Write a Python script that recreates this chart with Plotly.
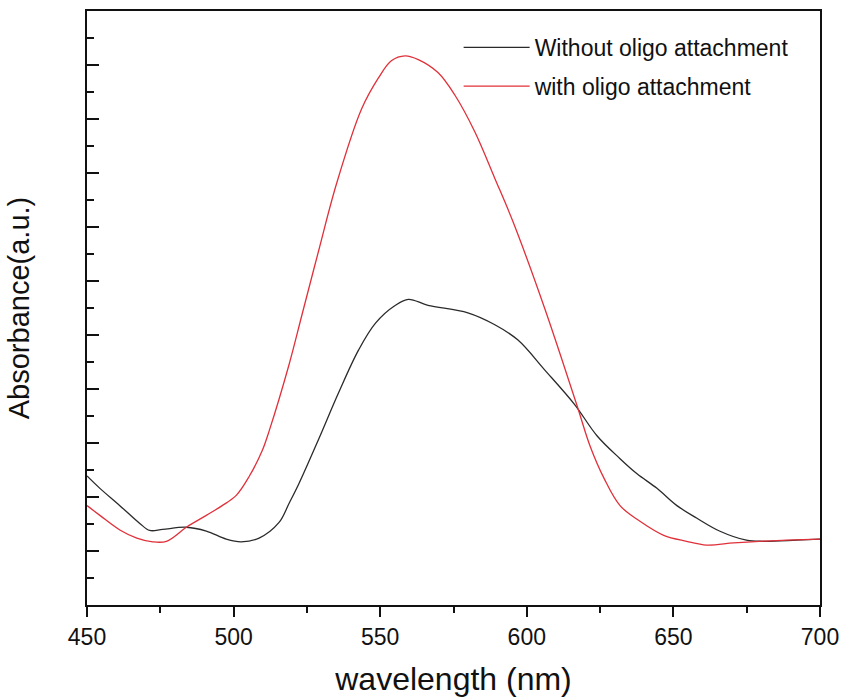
import plotly.graph_objects as go

# Wavelength (nm) and absorbance (a.u.)
wl_without = [450, 454.4, 461.2, 468.0, 471.4, 475.8, 483.9, 490.7, 497.5, 502.6,
              508.7, 515.5, 518.9, 522.3, 529.0, 535.8, 542.6, 548.4, 555.2, 559.6,
              566.3, 579.9, 589.1, 596.9, 606.0, 616.2, 624.0, 631.8, 637.6, 644.4,
              651.2, 657.9, 665.7, 674.9, 680.7, 691.9, 700]
abs_without = [2.39, 2.16, 1.84, 1.51, 1.38, 1.40, 1.44, 1.37, 1.22, 1.17,
               1.24, 1.53, 1.88, 2.25, 3.07, 3.93, 4.72, 5.22, 5.55, 5.66,
               5.55, 5.41, 5.19, 4.91, 4.36, 3.72, 3.13, 2.71, 2.43, 2.16,
               1.84, 1.61, 1.37, 1.20, 1.18, 1.20, 1.22]

wl_with = [450, 454.4, 461.2, 467.0, 472.4, 477.1, 483.9, 490.7, 496.1, 500.9,
           505.3, 509.7, 512.1, 518.9, 523.3, 529.0, 535.1, 543.6, 549.4,
           553.8, 558.5, 563.0, 569.7, 575.5, 582.3, 589.1, 595.2, 606.0, 617.2,
           621.6, 626.4, 631.8, 638.6, 646.7, 654.5, 661.3, 670.5, 679.3, 688.5, 700]
abs_with = [1.84, 1.66, 1.39, 1.24, 1.17, 1.18, 1.44, 1.66, 1.84, 2.03,
            2.38, 2.85, 3.22, 4.45, 5.37, 6.56, 7.80, 9.18, 9.76,
            10.08, 10.17, 10.10, 9.86, 9.44, 8.76, 7.90, 7.11, 5.51, 3.68,
            2.94, 2.34, 1.84, 1.55, 1.29, 1.18, 1.11, 1.15, 1.18, 1.20, 1.22]

x_ticks = [450, 500, 550, 600, 650, 700]

FONT = "Liberation Sans, Arial, sans-serif"

fig = go.Figure()
fig.add_trace(go.Scatter(x=wl_without, y=abs_without, mode="lines",
                         name="Without oligo attachment", legendgroup="a",
                         line=dict(color="#2a2a2a", width=1.3, shape="spline", smoothing=1.0)))
fig.add_trace(go.Scatter(x=wl_with, y=abs_with, mode="lines",
                         name="with oligo attachment", legendgroup="b",
                         line=dict(color="#e0303a", width=1.3, shape="spline", smoothing=1.0)))

fig.update_layout(
    width=848, height=700,
    margin=dict(l=87, r=24, t=9, b=93),
    paper_bgcolor="white", plot_bgcolor="white",
    font=dict(family=FONT, color="#111", size=20),
    showlegend=True,
    legend=dict(x=0.507, y=0.975, xanchor="left", yanchor="top",
                bgcolor="rgba(0,0,0,0)", itemwidth=66, tracegroupgap=6,
                font=dict(size=23, family=FONT, color="#111")),
)
fig.update_xaxes(
    range=[450, 700], tickvals=x_ticks, ticktext=[str(v) for v in x_ticks],
    showline=True, linecolor="#111", linewidth=2, mirror=True,
    ticks="outside", ticklen=10, tickwidth=2, tickcolor="#111",
    minor=dict(dtick=25, ticks="outside", ticklen=6, tickwidth=2, tickcolor="#111"),
    showgrid=False, zeroline=False,
    tickfont=dict(size=23, family=FONT, color="#111"),
    title=dict(text="wavelength (nm)", font=dict(size=32, family=FONT, color="#111"), standoff=19),
)
fig.update_yaxes(
    range=[0, 11], dtick=1, tick0=0, showticklabels=False,
    showline=True, linecolor="#111", linewidth=2, mirror=True,
    ticks="inside", ticklen=12, tickwidth=2, tickcolor="#111",
    minor=dict(dtick=0.5, ticks="inside", ticklen=7, tickwidth=2, tickcolor="#111"),
    showgrid=False, zeroline=False,
    title=dict(text="Absorbance(a.u.)", font=dict(size=29, family=FONT, color="#111"), standoff=47),
)

fig.write_html("out.html")
